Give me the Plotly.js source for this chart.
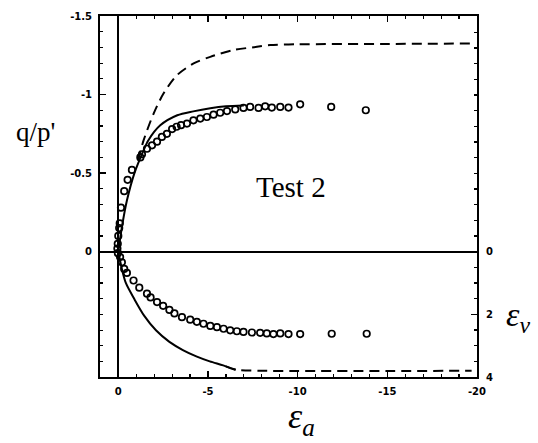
<!DOCTYPE html>
<html>
<head>
<meta charset="utf-8">
<script src="https://cdn.plot.ly/plotly-3.0.1.min.js"></script>
<style>
  html, body { margin: 0; padding: 0; background: #fff; }
  #chart { width: 538px; height: 443px; }
</style>
</head>
<body>
<div id="chart"></div>
<script>
// Stress ratio q/p' against axial strain (upper half, left axis)
const solidUpperEa = [0, -0.2, -0.48, -0.9, -1.41, -1.67, -2.34, -3.29, -4.18, -5.13, -6.0, -7.0];
const solidUpperQ  = [0, -0.155, -0.325, -0.5, -0.645, -0.708, -0.804, -0.868, -0.893, -0.913, -0.925, -0.93];

const dashUpperEa = [-1.1, -1.41, -1.97, -2.52, -3.27, -4.2, -5.13, -6.42, -7.73, -8.47, -10, -15, -19.7];
const dashUpperQ  = [-0.58, -0.708, -0.879, -1.006, -1.123, -1.198, -1.24, -1.283, -1.304, -1.315, -1.32, -1.322, -1.325];

const testUpperEa = [0.05, 0.03, 0, -0.05, -0.08, -0.15, -0.33, -0.52, -0.76, -1.23, -1.32, -1.6, -1.88, -2.16, -2.43, -2.71,
  -3.0, -3.25, -3.5, -3.83, -4.19, -4.57, -4.94, -5.31, -5.68, -6.06, -6.52, -6.98, -7.35, -7.82, -8.19, -8.56,
  -9.03, -9.49, -10.14, -11.87, -13.8];
const testUpperQ  = [-0.02, -0.05, -0.1, -0.15, -0.18, -0.28, -0.385, -0.457, -0.52, -0.6, -0.62, -0.655, -0.677, -0.7, -0.73, -0.75,
  -0.78, -0.795, -0.805, -0.815, -0.836, -0.847, -0.857, -0.872, -0.884, -0.895, -0.905, -0.915, -0.921, -0.915, -0.925, -0.917,
  -0.921, -0.917, -0.938, -0.921, -0.9];

// Volumetric strain against axial strain (lower half, right axis)
const solidLowerEa = [0, -0.2, -0.42, -0.9, -1.45, -2.1, -2.85, -3.6, -4.35, -5.1, -5.85, -6.55];
const solidLowerEv = [0, 0.55, 1.0, 1.52, 2.05, 2.51, 2.88, 3.14, 3.34, 3.5, 3.63, 3.77];

const dashLowerEa = [-6.0, -6.55, -7.9, -10, -15, -19.7];
const dashLowerEv = [3.66, 3.77, 3.8, 3.81, 3.81, 3.8];

const testLowerEa = [0.02, -0.1, -0.2, -0.33, -0.48, -0.85, -1.17, -1.6, -1.8, -2.16, -2.5, -2.85, -3.13, -3.55, -4.01, -4.38,
  -4.75, -5.13, -5.5, -5.87, -6.24, -6.61, -6.98, -7.45, -7.91, -8.28, -8.65, -9.03, -9.49, -10.14, -11.9, -13.85];
const testLowerEv = [0.05, 0.17, 0.34, 0.55, 0.68, 0.92, 1.15, 1.34, 1.46, 1.61, 1.73, 1.86, 1.97, 2.09, 2.17, 2.24,
  2.3, 2.37, 2.41, 2.46, 2.51, 2.54, 2.56, 2.58, 2.59, 2.61, 2.63, 2.61, 2.63, 2.63, 2.62, 2.62];

// Tick labels
const xTickVals = [0, -5, -10, -15, -20];
const xTickText = ['0', '-5', '-10', '-15', '-20'];
const qTickVals = [-1.5, -1, -0.5, 0];
const qTickText = ['-1.5', '-1', '-0.5', '0'];
const evTickVals = [0, 2, 4];
const evTickText = ['0', '2', '4'];

const ink = '#000';
const tickFont = { family: 'DejaVu Sans', size: 10, color: ink, weight: 'bold' };
const serif = 'Liberation Serif, Times New Roman, serif';

const lineStyle = { color: ink, width: 2, shape: 'spline', smoothing: 0.8 };
const dashStyle = { color: ink, width: 2, dash: '10px,6px', shape: 'spline', smoothing: 0.8 };
const markerStyle = { symbol: 'circle-open', size: 6.5, color: ink, line: { color: ink, width: 1.7 } };

const traces = [
  { x: dashUpperEa, y: dashUpperQ, yaxis: 'y', mode: 'lines', line: dashStyle },
  { x: solidUpperEa, y: solidUpperQ, yaxis: 'y', mode: 'lines', line: lineStyle },
  { x: testUpperEa, y: testUpperQ, yaxis: 'y', mode: 'markers', marker: markerStyle },
  { x: dashLowerEa, y: dashLowerEv, yaxis: 'y2', mode: 'lines', line: dashStyle },
  { x: solidLowerEa, y: solidLowerEv, yaxis: 'y2', mode: 'lines', line: lineStyle },
  { x: testLowerEa, y: testLowerEv, yaxis: 'y2', mode: 'markers', marker: markerStyle }
];

const layout = {
  width: 538,
  height: 443,
  margin: { l: 100, r: 61, t: 16, b: 66 },
  paper_bgcolor: '#fff',
  plot_bgcolor: '#fff',
  showlegend: false,
  xaxis: {
    range: [1.02, -20],
    showgrid: false,
    zeroline: true, zerolinecolor: ink, zerolinewidth: 2,
    showline: true, linecolor: ink, linewidth: 2, mirror: 'ticks',
    ticks: 'inside', ticklen: 6, tickwidth: 1.5, tickcolor: ink,
    tickmode: 'array', tickvals: xTickVals, ticktext: xTickText,
    tickfont: tickFont, ticklabelstandoff: 4,
    minor: { dtick: 1, ticks: 'inside', ticklen: 3, tickwidth: 1.2, tickcolor: ink, showgrid: false }
  },
  yaxis: {
    range: [0.798, -1.5],
    showgrid: false,
    zeroline: true, zerolinecolor: ink, zerolinewidth: 2,
    showline: true, linecolor: ink, linewidth: 2, mirror: false,
    ticks: 'inside', ticklen: 6, tickwidth: 1.5, tickcolor: ink,
    tickmode: 'array', tickvals: qTickVals, ticktext: qTickText,
    tickfont: tickFont, ticklabelstandoff: 4,
    minor: { dtick: 0.1, tick0: 0, ticks: 'inside', ticklen: 3, tickwidth: 1.2, tickcolor: ink, showgrid: false }
  },
  yaxis2: {
    overlaying: 'y', side: 'right',
    range: [4, -7.52],
    showgrid: false, zeroline: false,
    showline: true, linecolor: ink, linewidth: 2,
    ticks: 'inside', ticklen: 6, tickwidth: 1.5, tickcolor: ink,
    tickmode: 'array', tickvals: evTickVals, ticktext: evTickText,
    tickfont: tickFont, ticklabelstandoff: 5,
    minor: { dtick: 0.5, tick0: 0, ticks: 'inside', ticklen: 3, tickwidth: 1.2, tickcolor: ink, showgrid: false }
  },
  annotations: [
    { text: "q/p'", xref: 'paper', yref: 'paper', x: -0.172, y: 0.679, showarrow: false,
      xanchor: 'center', yanchor: 'middle', font: { family: serif, size: 27, color: ink } },
    { text: 'Test 2', xref: 'paper', yref: 'paper', x: 0.507, y: 0.526, showarrow: false,
      xanchor: 'center', yanchor: 'middle', font: { family: serif, size: 29, color: ink } },
    { text: '<i>ε<sub>a</sub></i>', xref: 'paper', yref: 'paper', x: 0.535, y: -0.115, showarrow: false,
      xanchor: 'center', yanchor: 'middle', font: { family: serif, size: 36, color: ink } },
    { text: '<i>ε<sub>ν</sub></i>', xref: 'paper', yref: 'paper', x: 1.11, y: 0.165, showarrow: false,
      xanchor: 'center', yanchor: 'middle', font: { family: serif, size: 34, color: ink } }
  ]
};

Plotly.newPlot('chart', traces, layout, { staticPlot: true, displayModeBar: false });
</script>
</body>
</html>
